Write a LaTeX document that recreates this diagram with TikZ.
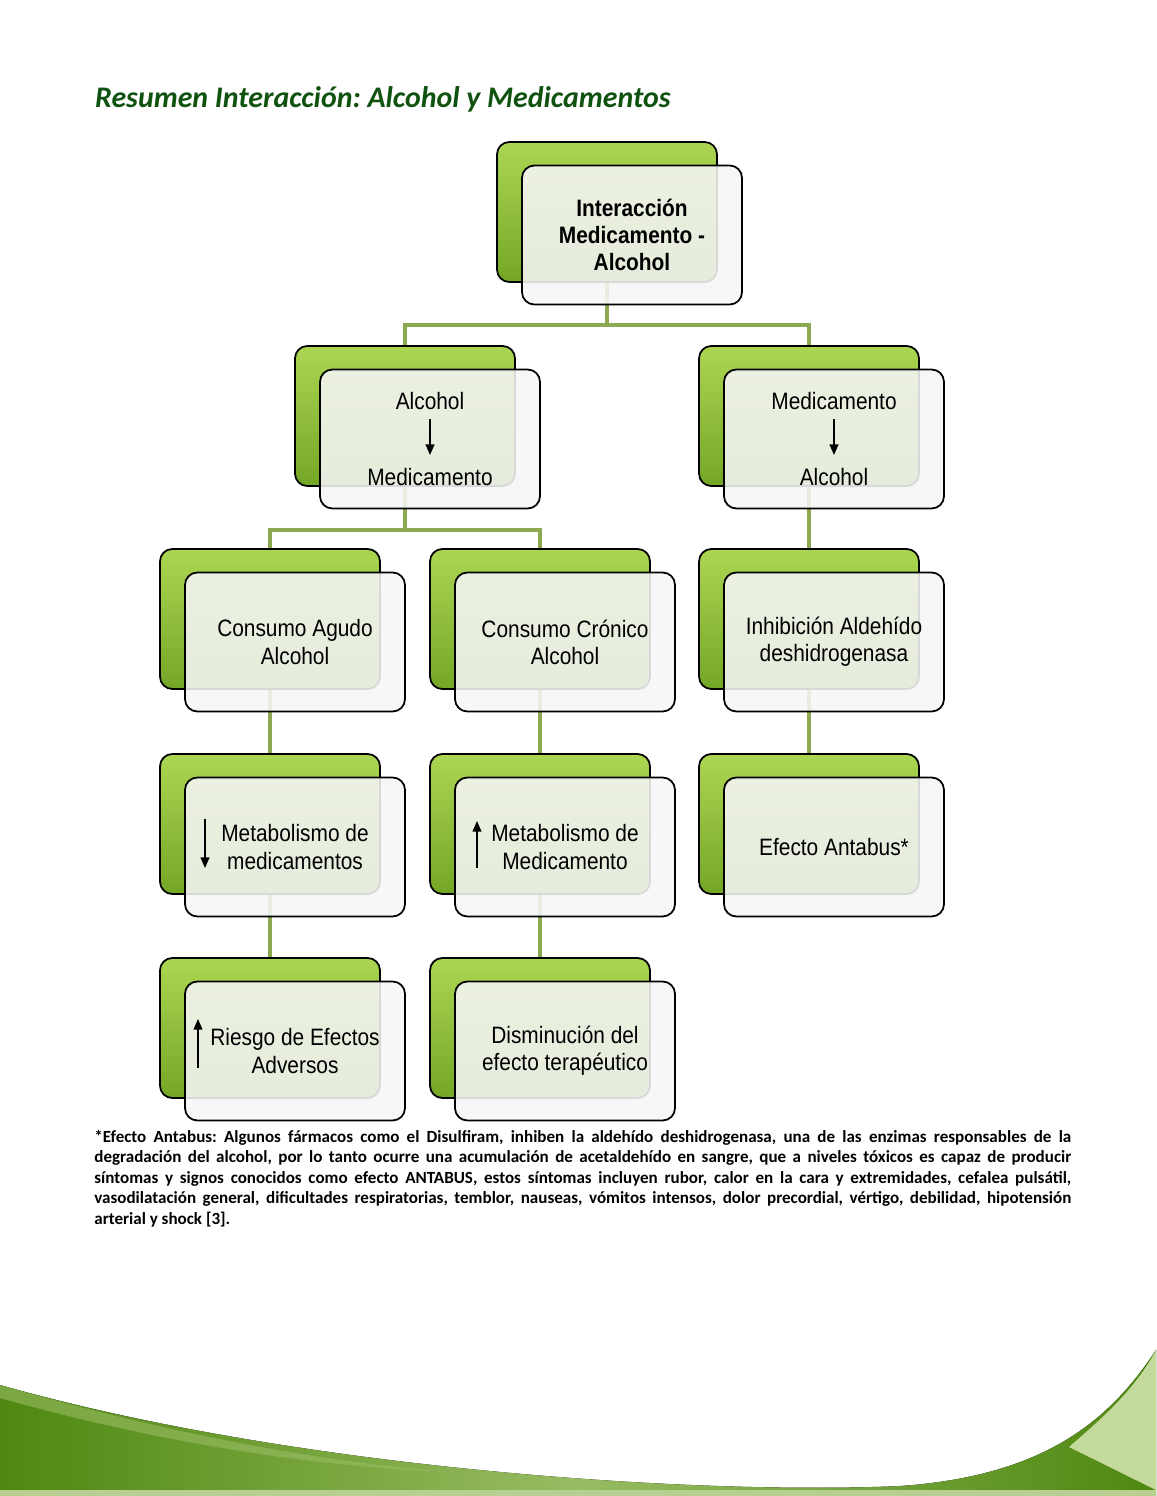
\documentclass[tikz,border=0pt]{standalone}
\usepackage{fontspec}
\setmainfont{Carlito}
\newfontfamily\boxfont{Liberation Sans}[FakeStretch=0.88]
\usetikzlibrary{backgrounds,arrows.meta,calc}

\definecolor{titlegreen}{RGB}{16,82,16}
\definecolor{linkgreen}{RGB}{140,168,80}
\definecolor{boxtop}{RGB}{172,214,82}
\definecolor{boxbottom}{RGB}{116,166,38}
\definecolor{swdark}{RGB}{78,136,16}
\definecolor{swmid}{RGB}{152,188,98}
\definecolor{swlight}{RGB}{196,218,156}

\tikzset{
  greenbox/.style={draw=black, line width=1pt, rounded corners=7pt,
    top color=boxtop, bottom color=boxbottom,
    minimum width=4.4cm, minimum height=2.8cm},
  whitebox/.style={draw=black, line width=1pt, rounded corners=7pt,
    fill=gray!7, fill opacity=0.88, text opacity=1,
    minimum width=4.4cm, minimum height=2.78cm, align=center,
    font=\boxfont\fontsize{13.5}{15.4}\selectfont},
  link/.style={draw=linkgreen, line width=2.2pt},
  textarrow/.style={line width=0.8pt, -{Triangle[width=5pt,length=6pt]}}
}

\begin{document}
\begin{tikzpicture}[x=0.02cm,y=-0.02cm]
        \useasboundingbox (0,0) rectangle (1156,1496);
        \node[anchor=base west, text=titlegreen, font=\fontsize{17}{20}\selectfont\bfseries\itshape\frenchspacing] (title) at (89,108) {Resumen Interacción: Alcohol y Medicamentos};

        % first level
        \node[greenbox] (gTop) at (607,212) {};
        \node[whitebox, font=\boxfont\bfseries\fontsize{13.5}{15.4}\selectfont] (wTop) at ([shift={(25,23)}]gTop.center) {Interacción\\Medicamento -\\Alcohol};

        % second level
        \node[greenbox] (gAlc) at (405,416) {};
        \node[whitebox] (wAlc) at ([shift={(25,23)}]gAlc.center) {Alcohol\\[0.98cm]Medicamento};
        \node[greenbox] (gMed) at (809,416) {};
        \node[whitebox] (wMed) at ([shift={(25,23)}]gMed.center) {Medicamento\\[0.98cm]Alcohol};
        \draw[textarrow] ([shift={(0,-20)}]wAlc.center) -- ([shift={(0,16)}]wAlc.center);
        \draw[textarrow] ([shift={(0,-20)}]wMed.center) -- ([shift={(0,16)}]wMed.center);

        % third level
        \node[greenbox] (gAgudo) at (270,619) {};
        \node[whitebox] (wAgudo) at ([shift={(25,23)}]gAgudo.center) {Consumo Agudo\\Alcohol};
        \node[greenbox] (gCronico) at (540,619) {};
        \node[whitebox] (wCronico) at ([shift={(25,23)}]gCronico.center) {Consumo Crónico\\Alcohol};
        \node[greenbox] (gInhib) at (809,619) {};
        \node[whitebox] (wInhib) at ([shift={(25,23)}]gInhib.center) {Inhibición Aldehído\\deshidrogenasa};

        % fourth level
        \node[greenbox] (gMetA) at (270,824) {};
        \node[whitebox] (wMetA) at ([shift={(25,23)}]gMetA.center) {Metabolismo de\\medicamentos};
        \node[greenbox] (gMetC) at (540,824) {};
        \node[whitebox] (wMetC) at ([shift={(25,23)}]gMetC.center) {Metabolismo de\\Medicamento};
        \node[greenbox] (gAntabus) at (809,824) {};
        \node[whitebox] (wAntabus) at ([shift={(25,23)}]gAntabus.center) {Efecto Antabus*};
        \draw[textarrow] ([shift={(-90,-28)}]wMetA.center) -- ([shift={(-90,21)}]wMetA.center);
        \draw[textarrow] ([shift={(-88,21)}]wMetC.center) -- ([shift={(-88,-26)}]wMetC.center);

        % fifth level
        \node[greenbox] (gRiesgo) at (270,1028) {};
        \node[whitebox] (wRiesgo) at ([shift={(25,23)}]gRiesgo.center) {Riesgo de Efectos\\Adversos};
        \node[greenbox] (gDismin) at (540,1028) {};
        \node[whitebox] (wDismin) at ([shift={(25,23)}]gDismin.center) {Disminución del\\efecto terapéutico};
        \draw[textarrow] ([shift={(-97,17)}]wRiesgo.center) -- ([shift={(-97,-32)}]wRiesgo.center);

        % connectors behind the boxes
        \begin{scope}[on background layer]
            \draw[link] (gTop.center) -- ++(0,113) -| (gAlc.north);
            \draw[link] (gTop.center) -- ++(0,113) -| (gMed.north);
            \draw[link] (gAlc.center) -- ++(0,114) -| (gAgudo.north);
            \draw[link] (gAlc.center) -- ++(0,114) -| (gCronico.north);
            \draw[link] (gMed.center) -- (gInhib.north);
            \draw[link] (gAgudo.center) -- (gMetA.north);
            \draw[link] (gCronico.center) -- (gMetC.north);
            \draw[link] (gInhib.center) -- (gAntabus.north);
            \draw[link] (gMetA.center) -- (gRiesgo.north);
            \draw[link] (gMetC.center) -- (gDismin.north);
        \end{scope}

        % footnote
        \node[anchor=north west, inner sep=0pt, text width=19.54cm, align=justify, font=\fontsize{9.7}{11.6}\selectfont\bfseries\frenchspacing] (note) at (94,1130) {*Efecto Antabus: Algunos fármacos como el Disulfiram, inhiben la aldehído deshidrogenasa, una de las enzimas responsables de la\linebreak degradación del alcohol, por lo tanto ocurre una acumulación de acetaldehído en sangre, que a niveles tóxicos es capaz de producir\linebreak síntomas y signos conocidos como efecto ANTABUS, estos síntomas incluyen rubor, calor en la cara y extremidades, cefalea pulsátil,\linebreak vasodilatación general, dificultades respiratorias, temblor, nauseas, vómitos intensos, dolor precordial, vértigo, debilidad, hipotensión\linebreak arterial y shock [3].};

        % green swoosh at the foot of the page
        \fill[left color=swdark, right color=swdark, middle color=swmid] (0,1385) .. controls (300,1470) and (700,1495) .. (900,1486) .. controls (1045,1476) and (1110,1420) .. (1156,1350) -- (1156,1496) -- (0,1496) -- cycle;
        \fill[swmid, opacity=0.6] (0,1385) .. controls (150,1428) and (300,1460) .. (450,1472) .. controls (300,1466) and (150,1440) .. (0,1398) -- cycle;
        \fill[swlight] (1069,1447) .. controls (1100,1420) and (1135,1390) .. (1156,1350) -- (1156,1490) -- cycle;
        \fill[swmid!70] (0,1490) rectangle (1156,1496);
\end{tikzpicture}
\end{document}
